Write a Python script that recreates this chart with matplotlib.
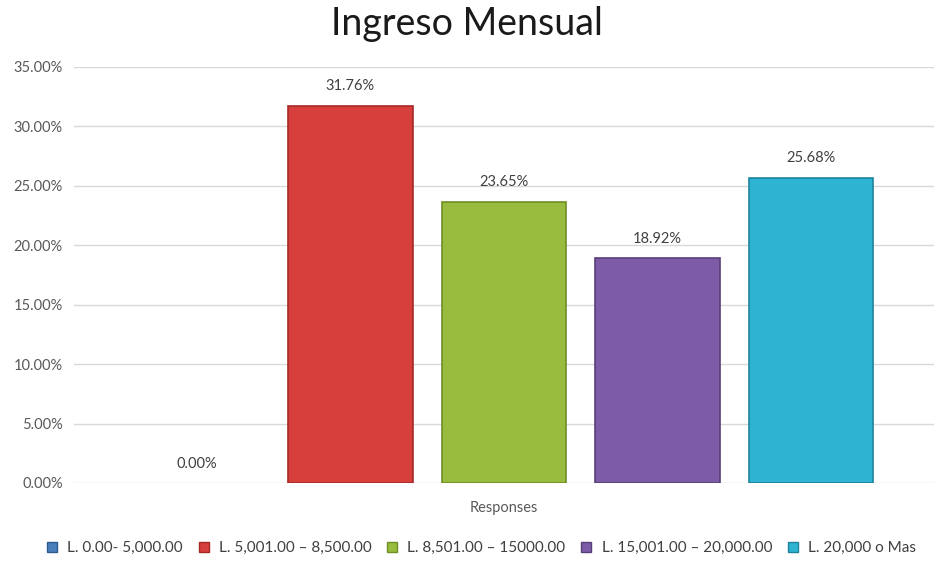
import matplotlib.pyplot as plt
import numpy as np
from matplotlib.lines import Line2D

# data
categories = ["L. 0.00- 5,000.00", "L. 5,001.00 \u2013 8,500.00", "L. 8,501.00 \u2013 15000.00",
              "L. 15,001.00 \u2013 20,000.00", "L. 20,000 o Mas"]
values = [0.0, 31.76, 23.65, 18.92, 25.68]
colors = ["#4A7EBB", "#D63F3C", "#98BD3E", "#7D5BA6", "#2FB3D3"]
edges = ["#2E5B8F", "#A52A28", "#6F8E26", "#57407A", "#1E849E"]
yticks = [0, 5, 10, 15, 20, 25, 30, 35]

plt.rcParams['font.family'] = ['Lato', 'DejaVu Sans']

fig = plt.figure(figsize=(9.34, 5.61), dpi=100)
ax = fig.add_axes([74 / 934, 1 - 483 / 561, 860 / 934, (483 - 67) / 561])

n = len(values)
x = np.arange(n) - (n - 1) / 2
width = 0.81
lw = [0 if v == 0 else 1.2 for v in values]
ax.bar(x, values, width=width, color=colors, edgecolor=edges, linewidth=lw, zorder=3)

for xi, v in zip(x, values):
    ax.annotate(f"{v:.2f}%", (xi, v), xytext=(0, 9), textcoords="offset points",
                ha="center", va="bottom", fontsize=10.5, color="#404040")

ax.set_xlim(-2.8, 2.8)
ax.set_ylim(0, 35)
ax.set_yticks(yticks)
ax.set_yticklabels([f"{t:.2f}%" for t in yticks], fontsize=10.5, color="#595959")
ax.set_xticks([0])
ax.set_xticklabels(["Responses"], fontsize=10.5, color="#595959")
ax.tick_params(axis="y", length=0, pad=8)
ax.tick_params(axis="x", length=0, pad=13)
ax.grid(axis="y", color="#D9D9D9", linewidth=1, zorder=0)
for s in ax.spines.values():
    s.set_visible(False)

fig.suptitle("Ingreso Mensual", fontsize=27, y=0.99, color="#1a1a1a")

handles = [Line2D([], [], marker="s", linestyle="none", markersize=7,
                  markerfacecolor=c, markeredgecolor=e) for c, e in zip(colors, edges)]
fig.legend(handles, categories, loc="center", bbox_to_anchor=(0.51, 1 - 548 / 561), ncol=5,
           frameon=False, fontsize=11, handletextpad=0.0, columnspacing=0.35,
           labelcolor="#404040")

fig.savefig("out.png", dpi=100)
